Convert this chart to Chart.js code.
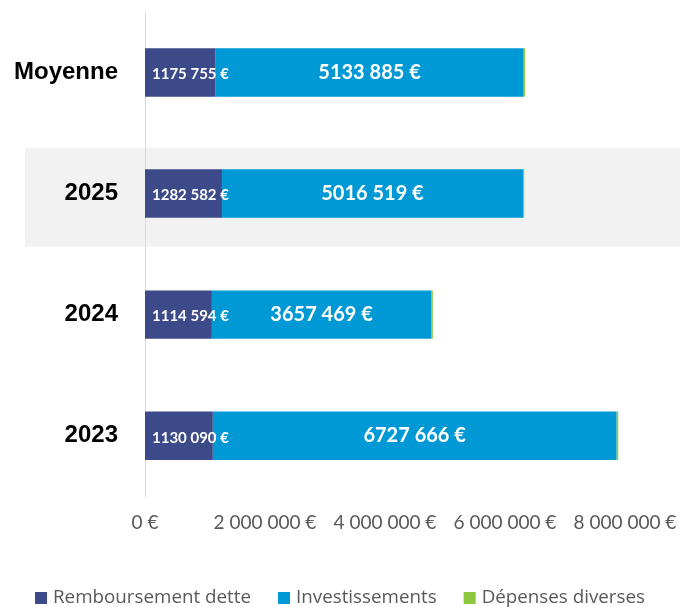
<!DOCTYPE html>
<html lang="fr">
<head>
<meta charset="utf-8">
<title>Dépenses</title>
<script src="https://cdn.jsdelivr.net/npm/chart.js@4.4.1/dist/chart.umd.min.js"></script>
<style>
  html, body { margin: 0; padding: 0; background: #fff; }
  #wrap { width: 680px; height: 607px; position: relative; }
</style>
</head>
<body>
<div id="wrap"><canvas id="depChart"></canvas></div>
<script>
// categories, top to bottom
const categories = ["Moyenne", "2025", "2024", "2023"];

// series values (€)
const remboursement = [1175755, 1282582, 1114594, 1130090];
const investissements = [5133885, 5016519, 3657469, 6727666];
const depensesDiverses = [25000, 20000, 25000, 30000];

const seriesNames = ["Remboursement dette", "Investissements", "Dépenses diverses"];
const seriesColors = ["#3d4a89", "#0099d6", "#8dc63f"];

// x axis ticks
const xTicks = [0, 2000000, 4000000, 6000000, 8000000];

const FONT = "Lato, 'Open Sans', sans-serif";

// "1175 755 €" as in the original labels
function fmtLabel(v) {
  const r = Math.round(v);
  return Math.floor(r / 1000) + " " + String(r % 1000).padStart(3, "0") + " €";
}
// "2 000 000 €" on the axis
function fmtTick(v) {
  return String(v).replace(/\B(?=(\d{3})+(?!\d))/g, " ") + " €";
}

// ========= GREY BAND BEHIND 2025 ==========
const bandPlugin = {
  id: "band",
  beforeDraw(chart) {
    const y = chart.scales.y.getPixelForValue(1);
    const ctx = chart.ctx;
    ctx.save();
    ctx.fillStyle = "#f2f2f2";
    ctx.fillRect(25, y - 46, chart.width - 25, 99);
    ctx.restore();
  }
};

// ========= VALUE LABELS IN BARS ==========
const labelPlugin = {
  id: "valueLabels",
  afterDatasetsDraw(chart) {
    const ctx = chart.ctx;
    ctx.save();
    ctx.fillStyle = "#fff";
    ctx.textBaseline = "middle";

    chart.getDatasetMeta(0).data.forEach((bar, i) => {
      ctx.font = "bold 15px " + FONT;
      ctx.textAlign = "left";
      ctx.fillText(fmtLabel(remboursement[i]), bar.base + 7, bar.y + 2);
    });

    chart.getDatasetMeta(1).data.forEach((bar, i) => {
      ctx.font = "bold 20px " + FONT;
      ctx.textAlign = "center";
      ctx.fillText(fmtLabel(investissements[i]), (bar.base + bar.x) / 2, bar.y);
    });
    ctx.restore();
  }
};

// ========= LEGEND AT THE BOTTOM ==========
const legendPlugin = {
  id: "bottomLegend",
  afterDraw(chart) {
    const ctx = chart.ctx;
    const box = 12, gapText = 6, gapItem = 27, y = 598;
    ctx.save();
    ctx.font = "18.8px 'Open Sans', sans-serif";
    ctx.textBaseline = "middle";
    ctx.textAlign = "left";
    const widths = seriesNames.map((n) => box + gapText + ctx.measureText(n).width);
    const total = widths.reduce((a, b) => a + b, 0) + gapItem * (widths.length - 1);
    let x = chart.width / 2 - total / 2;
    seriesNames.forEach((n, i) => {
      ctx.fillStyle = seriesColors[i];
      ctx.fillRect(x, y - box / 2, box, box);
      ctx.fillStyle = "#595959";
      ctx.fillText(n, x + box + gapText, y);
      x += widths[i] + gapItem;
    });
    ctx.restore();
  }
};

const ctx = document.getElementById("depChart").getContext("2d");

new Chart(ctx, {
  type: "bar",
  data: {
    labels: categories,
    datasets: [
      { label: seriesNames[0], data: remboursement, backgroundColor: seriesColors[0] },
      { label: seriesNames[1], data: investissements, backgroundColor: seriesColors[1] },
      { label: seriesNames[2], data: depensesDiverses, backgroundColor: seriesColors[2] }
    ]
  },
  options: {
    indexAxis: "y",
    responsive: true,
    maintainAspectRatio: false,
    animation: false,
    layout: { padding: { left: 0, right: 55, top: 12, bottom: 58 } },
    datasets: {
      bar: { categoryPercentage: 1, barPercentage: 0.4, borderWidth: 0 }
    },
    scales: {
      x: {
        stacked: true,
        min: 0,
        max: 8000000,
        afterBuildTicks: (scale) => {
          scale.ticks = xTicks.map((v) => ({ value: v }));
        },
        afterFit: (scale) => {
          scale.paddingLeft = 0;
          scale.paddingRight = 0;
        },
        grid: { display: false, drawTicks: false },
        border: { display: false },
        ticks: {
          padding: 15,
          color: "#595959",
          font: { family: FONT, size: 19 },
          callback: (v) => fmtTick(v)
        }
      },
      y: {
        stacked: true,
        grid: { display: false, drawTicks: false },
        border: { display: true, color: "#d9d9d9", width: 1 },
        afterFit: (scale) => {
          scale.width = 145;
          scale.paddingTop = 0;
          scale.paddingBottom = 0;
        },
        ticks: {
          padding: 27,
          color: "#000",
          font: { family: "'Liberation Sans', Arial, sans-serif", size: 24, weight: "bold" }
        }
      }
    },
    plugins: {
      legend: { display: false },
      tooltip: { enabled: false }
    }
  },
  plugins: [bandPlugin, labelPlugin, legendPlugin]
});
</script>
</body>
</html>
